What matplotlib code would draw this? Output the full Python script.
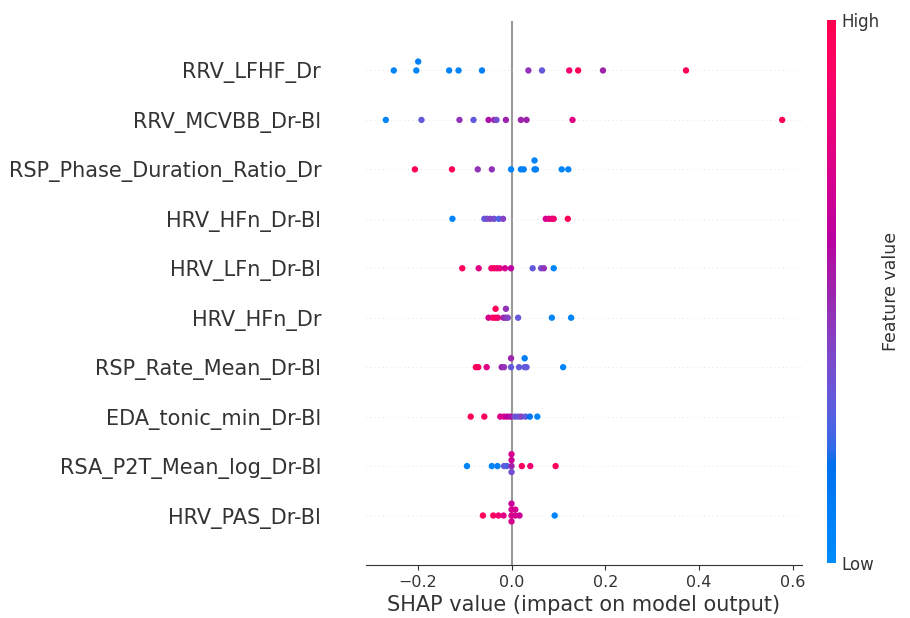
import numpy as np
import matplotlib
matplotlib.use('Agg')
import matplotlib.pyplot as plt
from matplotlib.colors import ListedColormap
from matplotlib import cm

# features, top to bottom
features = [
    "RRV_LFHF_Dr",
    "RRV_MCVBB_Dr-Bl",
    "RSP_Phase_Duration_Ratio_Dr",
    "HRV_HFn_Dr-Bl",
    "HRV_LFn_Dr-Bl",
    "HRV_HFn_Dr",
    "RSP_Rate_Mean_Dr-Bl",
    "EDA_tonic_min_Dr-Bl",
    "RSA_P2T_Mean_log_Dr-Bl",
    "HRV_PAS_Dr-Bl",
]

# shap values per feature
shap_lfhf = [-0.251, -0.203, -0.199, -0.133, -0.113, -0.063, 0.036, 0.065, 0.123, 0.142, 0.195, 0.372]
shap_mcvbb = [-0.268, -0.192, -0.111, -0.081, -0.049, -0.037, -0.032, -0.012, 0.020, 0.032, 0.130, 0.577]
shap_phase = [-0.206, -0.127, -0.072, -0.042, -0.001, 0.020, 0.026, 0.049, 0.049, 0.052, 0.107, 0.121]
shap_hfn_bl = [-0.126, -0.058, -0.052, -0.045, -0.037, -0.027, -0.018, 0.073, 0.080, 0.086, 0.090, 0.120]
shap_lfn_bl = [-0.105, -0.070, -0.043, -0.037, -0.031, -0.025, -0.014, -0.001, 0.045, 0.063, 0.069, 0.090]
shap_hfn = [-0.049, -0.040, -0.034, -0.034, -0.029, -0.017, -0.012, -0.012, -0.008, 0.014, 0.086, 0.127]
shap_rsp_rate = [-0.076, -0.071, -0.053, -0.021, -0.016, -0.001, -0.001, 0.016, 0.028, 0.028, 0.032, 0.110]
shap_eda = [-0.087, -0.058, -0.024, -0.016, -0.009, -0.002, 0.007, 0.014, 0.021, 0.030, 0.039, 0.055]
shap_rsa = [-0.095, -0.042, -0.030, -0.016, -0.010, 0.0, 0.0, 0.0, 0.0, 0.022, 0.040, 0.094]
shap_pas = [-0.061, -0.039, -0.028, -0.017, 0.0, 0.0, 0.0, 0.0, 0.008, 0.008, 0.017, 0.092]

# normalised feature values (0 = low, 1 = high), same order
feat_lfhf = [0.05, 0.05, 0.08, 0.05, 0.05, 0.08, 0.45, 0.30, 0.85, 0.95, 0.50, 0.97]
feat_mcvbb = [0.05, 0.30, 0.45, 0.30, 0.55, 0.50, 0.35, 0.50, 0.50, 0.50, 0.75, 0.98]
feat_phase = [0.97, 0.95, 0.45, 0.45, 0.05, 0.08, 0.08, 0.05, 0.05, 0.08, 0.05, 0.05]
feat_hfn_bl = [0.05, 0.30, 0.35, 0.40, 0.35, 0.25, 0.40, 0.70, 0.75, 0.80, 0.85, 0.95]
feat_lfn_bl = [0.95, 0.75, 0.85, 0.92, 0.85, 0.80, 0.70, 0.60, 0.30, 0.35, 0.45, 0.05]
feat_hfn = [0.70, 0.90, 0.95, 0.95, 0.85, 0.50, 0.45, 0.45, 0.40, 0.30, 0.05, 0.05]
feat_rsp_rate = [0.95, 0.92, 0.75, 0.50, 0.45, 0.30, 0.50, 0.30, 0.30, 0.10, 0.30, 0.05]
feat_eda = [0.95, 0.92, 0.75, 0.70, 0.60, 0.55, 0.35, 0.30, 0.40, 0.30, 0.15, 0.05]
feat_rsa = [0.05, 0.05, 0.08, 0.30, 0.25, 0.50, 0.65, 0.35, 0.70, 0.92, 0.85, 0.95]
feat_pas = [0.95, 0.92, 0.85, 0.75, 0.70, 0.70, 0.70, 0.65, 0.70, 0.70, 0.65, 0.05]

shap_rows = [shap_lfhf, shap_mcvbb, shap_phase, shap_hfn_bl, shap_lfn_bl,
             shap_hfn, shap_rsp_rate, shap_eda, shap_rsa, shap_pas]
feat_rows = [feat_lfhf, feat_mcvbb, feat_phase, feat_hfn_bl, feat_lfn_bl,
             feat_hfn, feat_rsp_rate, feat_eda, feat_rsa, feat_pas]


def lch_to_rgb(l, c, h):
    a = c * np.cos(h)
    b = c * np.sin(h)
    fy = (l + 16) / 116
    fx = fy + a / 500
    fz = fy - b / 200
    f = np.array([fx, fy, fz])
    xyz = np.where(f > 0.2068966, f ** 3, (f - 16 / 116) / 7.787)
    xyz = xyz * np.array([0.95047, 1.0, 1.08883])
    m = np.array([[3.2404542, -1.5371385, -0.4985314],
                  [-0.9692660, 1.8760108, 0.0415560],
                  [0.0556434, -0.2040259, 1.0572252]])
    rgb = m @ xyz
    rgb = np.where(rgb > 0.0031308, 1.055 * np.abs(rgb) ** (1 / 2.4) - 0.055, 12.92 * rgb)
    return np.clip(rgb, 0, 1)


# shap-like red/blue colormap
nsteps = 100
l_vals = list(np.linspace(54, 40, nsteps // 2)) + list(np.linspace(40, 54, nsteps // 2))
c_vals = np.linspace(70, 90, nsteps)
h_vals = np.linspace(4.6588, 0.35470565 + 2 * np.pi, nsteps)
red_blue = ListedColormap([lch_to_rgb(l, c, h) for l, c, h in zip(l_vals, c_vals, h_vals)])

axis_color = "#333333"
fig = plt.figure(figsize=(9.1, 6.18), dpi=100)
ax = fig.add_axes([0.4022, 0.0858, 0.4791, 0.8802])
cax = fig.add_axes([0.9088, 0.089, 0.0099, 0.8786])

n = len(features)
row_height = 0.4
ax.axvline(0, color="#999999", zorder=-1)
for i, (vals, fvals) in enumerate(zip(shap_rows, feat_rows)):
    pos = n - 1 - i
    vals = np.array(vals)
    ax.axhline(pos, color="#cccccc", lw=0.5, dashes=(1, 5), zorder=-1)
    # beeswarm offsets
    quant = np.round(100 * (vals - vals.min()) / (vals.max() - vals.min() + 1e-8))
    inds = np.argsort(quant, kind="stable")
    ys = np.zeros(len(vals))
    layer = 0
    last_bin = -1
    for ind in inds:
        if quant[ind] != last_bin:
            layer = 0
        ys[ind] = np.ceil(layer / 2) * ((layer % 2) * 2 - 1)
        layer += 1
        last_bin = quant[ind]
    ys *= 0.9 * (row_height / np.max(ys + 1))
    ax.scatter(vals, pos + ys, c=fvals, cmap=red_blue, vmin=0, vmax=1,
               s=21, linewidth=0, alpha=1, zorder=3)

ax.set_yticks(range(n))
ax.set_yticklabels(features[::-1], fontsize=15)
ax.set_ylim(-1, n)
ax.xaxis.set_ticks_position('bottom')
ax.yaxis.set_ticks_position('none')
for side in ['right', 'top', 'left']:
    ax.spines[side].set_visible(False)
ax.spines['bottom'].set_color(axis_color)
ax.tick_params(color=axis_color, labelcolor=axis_color)
ax.tick_params('y', pad=28.8)
ax.tick_params('x', labelsize=11.5)
ax.set_xticks([-0.2, 0.0, 0.2, 0.4, 0.6])
ax.set_xlabel("SHAP value (impact on model output)", fontsize=15, color=axis_color)

m = cm.ScalarMappable(cmap=red_blue)
m.set_array([0, 1])
cb = fig.colorbar(m, cax=cax, ticks=[0, 1])
cb.set_ticklabels(["Low", "High"])
cb.set_label("Feature value", size=12.5, labelpad=2, color=axis_color)
cb.ax.tick_params(labelsize=12, length=0, labelcolor=axis_color)
cb.outline.set_visible(False)

fig.savefig("out.png", dpi=100)
